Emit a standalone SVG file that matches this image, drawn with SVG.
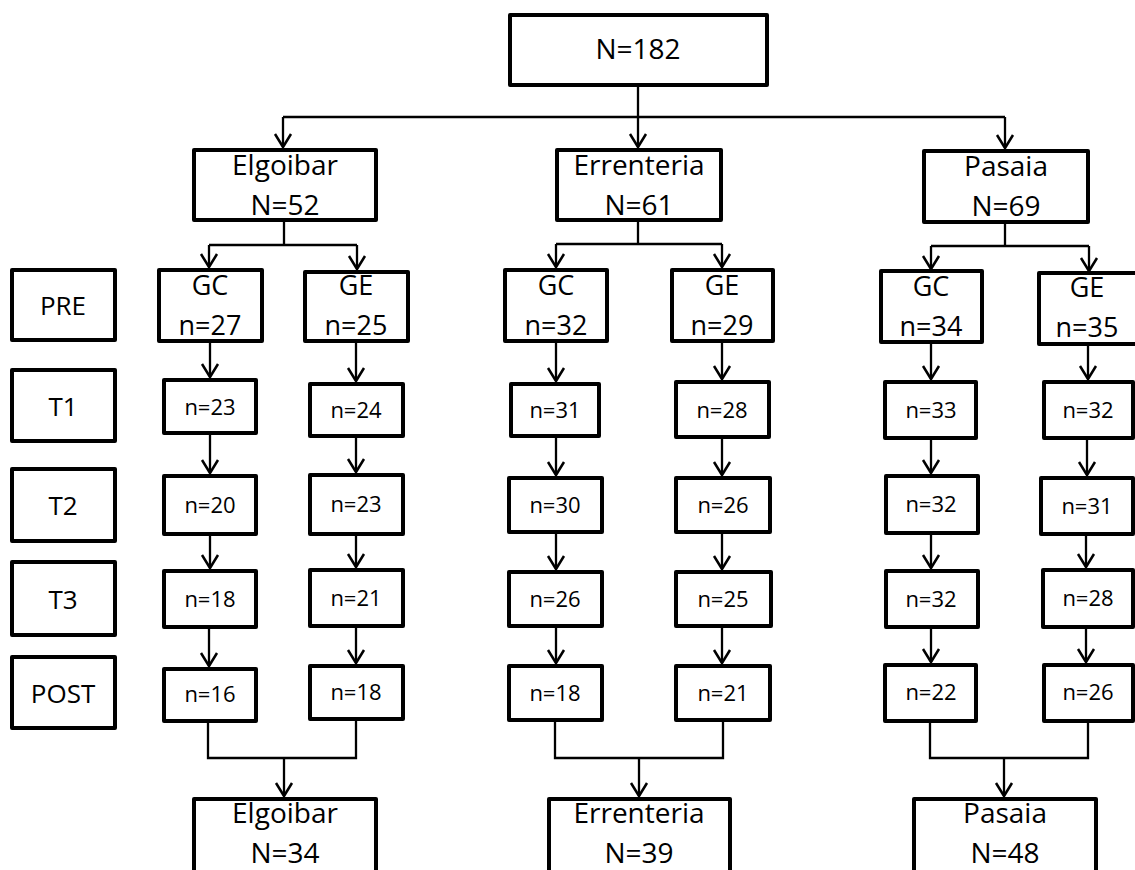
<svg xmlns="http://www.w3.org/2000/svg" width="1135" height="870" viewBox="0 0 1135 870">
<style>
.b{fill:#fff;stroke:#000;stroke-width:4;stroke-linejoin:round}
.t{font-family:'Open Sans','Noto Sans','Liberation Sans',sans-serif;fill:#000;text-anchor:middle}
.L{font-size:28px}
.M{font-size:27px}
.S{font-size:22px}
.R{font-size:26px}
.c{fill:none;stroke:#000;stroke-width:2.3}
.a{marker-end:url(#ah)}
</style>
<defs>
<marker id="ah" markerUnits="userSpaceOnUse" markerWidth="20" markerHeight="20" viewBox="-15 -10 17 20" refX="0" refY="0" orient="auto" overflow="visible">
<path d="M-13,-8 L0,0 L-13,8" fill="none" stroke="#000" stroke-width="2.5" stroke-linejoin="miter"/>
</marker>
</defs>
<g id="connectors">
<path class="c" d="M638,87 V117 M283,117 H1005"/>
<path class="c a" d="M283,117 V147"/>
<path class="c a" d="M638,117 V147"/>
<path class="c a" d="M1005,117 V148"/>
<path class="c" d="M284,222 V245 M209,245 H357"/>
<path class="c a" d="M209,245 V267"/>
<path class="c a" d="M357,245 V269"/>
<path class="c" d="M638,222 V244 M556,244 H722"/>
<path class="c a" d="M556,244 V267"/>
<path class="c a" d="M722,244 V267"/>
<path class="c" d="M1005,224 V246 M931,246 H1089"/>
<path class="c a" d="M931,246 V269"/>
<path class="c a" d="M1089,246 V271"/>
<path class="c a" d="M210,343 V377"/>
<path class="c a" d="M210,435 V473"/>
<path class="c a" d="M210,536 V568"/>
<path class="c a" d="M209,629 V666"/>
<path class="c a" d="M356,343 V381"/>
<path class="c a" d="M356,438 V472"/>
<path class="c a" d="M356,536 V567"/>
<path class="c a" d="M356,628 V663"/>
<path class="c a" d="M556,343 V381"/>
<path class="c a" d="M556,438 V475"/>
<path class="c a" d="M556,534 V569"/>
<path class="c a" d="M556,628 V663"/>
<path class="c a" d="M722,343 V379"/>
<path class="c a" d="M722,439 V475"/>
<path class="c a" d="M722,534 V569"/>
<path class="c a" d="M722,628 V663"/>
<path class="c a" d="M931,344 V379"/>
<path class="c a" d="M931,440 V473"/>
<path class="c a" d="M931,535 V568"/>
<path class="c a" d="M931,629 V662"/>
<path class="c a" d="M1088,346 V379"/>
<path class="c a" d="M1087,440 V475"/>
<path class="c a" d="M1086,536 V567"/>
<path class="c a" d="M1086,629 V662"/>
<path class="c" d="M208,723 V758 H356 V721"/>
<path class="c a" d="M284,758 V796"/>
<path class="c" d="M555,722 V758 H723 V722"/>
<path class="c a" d="M639,758 V796"/>
<path class="c" d="M930,723 V758 H1088 V723"/>
<path class="c a" d="M1004,758 V796"/>
</g>
<g id="n-total"><rect class="b" x="510" y="15" width="257" height="70"/><text class="t L" x="638" y="59">N=182</text></g>
<g id="n-elgoibar"><rect class="b" x="194" y="150" width="182" height="70"/><text class="t L" x="285" y="175">Elgoibar</text><text class="t L" x="285" y="215">N=52</text></g>
<g id="n-errenteria"><rect class="b" x="557" y="150" width="164" height="70"/><text class="t L" x="639" y="175">Errenteria</text><text class="t L" x="639" y="215">N=61</text></g>
<g id="n-pasaia"><rect class="b" x="924" y="151" width="164" height="71"/><text class="t L" x="1006" y="176">Pasaia</text><text class="t L" x="1006" y="216">N=69</text></g>
<g id="l-pre"><rect class="b" x="12" y="270" width="103" height="70"/><text class="t R" x="63" y="315">PRE</text></g>
<g id="l-t1"><rect class="b" x="12" y="370" width="103" height="71"/><text class="t R" x="63" y="416">T1</text></g>
<g id="l-t2"><rect class="b" x="12" y="469" width="103" height="72"/><text class="t R" x="63" y="515">T2</text></g>
<g id="l-t3"><rect class="b" x="12" y="562" width="103" height="73"/><text class="t R" x="63" y="609">T3</text></g>
<g id="l-post"><rect class="b" x="12" y="657" width="103" height="71"/><text class="t R" x="63" y="703">POST</text></g>
<g id="e-gc-pre"><rect class="b" x="159" y="270" width="103" height="71"/><text class="t M" x="210" y="295">GC</text><text class="t M" x="210" y="335">n=27</text></g>
<g id="e-ge-pre"><rect class="b" x="305" y="272" width="103" height="69"/><text class="t M" x="356" y="295">GE</text><text class="t M" x="356" y="335">n=25</text></g>
<g id="e-gc-t1"><rect class="b" x="164" y="380" width="92" height="53"/><text class="t S" x="210" y="415">n=23</text></g>
<g id="e-ge-t1"><rect class="b" x="310" y="384" width="93" height="52"/><text class="t S" x="356" y="418">n=24</text></g>
<g id="e-gc-t2"><rect class="b" x="164" y="476" width="92" height="58"/><text class="t S" x="210" y="513">n=20</text></g>
<g id="e-ge-t2"><rect class="b" x="310" y="475" width="93" height="59"/><text class="t S" x="356" y="512">n=23</text></g>
<g id="e-gc-t3"><rect class="b" x="164" y="571" width="92" height="56"/><text class="t S" x="210" y="607">n=18</text></g>
<g id="e-ge-t3"><rect class="b" x="310" y="570" width="93" height="56"/><text class="t S" x="356" y="606">n=21</text></g>
<g id="e-gc-post"><rect class="b" x="164" y="669" width="92" height="52"/><text class="t S" x="210" y="702">n=16</text></g>
<g id="e-ge-post"><rect class="b" x="310" y="666" width="93" height="53"/><text class="t S" x="356" y="700">n=18</text></g>
<g id="r-gc-pre"><rect class="b" x="505" y="270" width="102" height="71"/><text class="t M" x="556" y="295">GC</text><text class="t M" x="556" y="335">n=32</text></g>
<g id="r-ge-pre"><rect class="b" x="672" y="270" width="101" height="71"/><text class="t M" x="722" y="295">GE</text><text class="t M" x="722" y="335">n=29</text></g>
<g id="r-gc-t1"><rect class="b" x="511" y="384" width="88" height="52"/><text class="t S" x="555" y="418">n=31</text></g>
<g id="r-ge-t1"><rect class="b" x="676" y="382" width="93" height="55"/><text class="t S" x="722" y="418">n=28</text></g>
<g id="r-gc-t2"><rect class="b" x="509" y="478" width="93" height="54"/><text class="t S" x="555" y="513">n=30</text></g>
<g id="r-ge-t2"><rect class="b" x="676" y="478" width="94" height="54"/><text class="t S" x="723" y="513">n=26</text></g>
<g id="r-gc-t3"><rect class="b" x="509" y="572" width="93" height="54"/><text class="t S" x="555" y="607">n=26</text></g>
<g id="r-ge-t3"><rect class="b" x="676" y="572" width="95" height="54"/><text class="t S" x="723" y="607">n=25</text></g>
<g id="r-gc-post"><rect class="b" x="509" y="666" width="93" height="54"/><text class="t S" x="555" y="701">n=18</text></g>
<g id="r-ge-post"><rect class="b" x="676" y="666" width="94" height="54"/><text class="t S" x="723" y="701">n=21</text></g>
<g id="p-gc-pre"><rect class="b" x="881" y="271" width="101" height="71"/><text class="t M" x="931" y="296">GC</text><text class="t M" x="931" y="336">n=34</text></g>
<g id="p-ge-pre"><rect class="b" x="1039" y="273" width="104" height="71"/><text class="t M" x="1087" y="297">GE</text><text class="t M" x="1087" y="337">n=35</text></g>
<g id="p-gc-t1"><rect class="b" x="885" y="382" width="91" height="56"/><text class="t S" x="931" y="418">n=33</text></g>
<g id="p-ge-t1"><rect class="b" x="1044" y="382" width="89" height="56"/><text class="t S" x="1088" y="418">n=32</text></g>
<g id="p-gc-t2"><rect class="b" x="886" y="476" width="92" height="57"/><text class="t S" x="931" y="512">n=32</text></g>
<g id="p-ge-t2"><rect class="b" x="1041" y="478" width="92" height="56"/><text class="t S" x="1087" y="514">n=31</text></g>
<g id="p-gc-t3"><rect class="b" x="886" y="571" width="92" height="56"/><text class="t S" x="931" y="607">n=32</text></g>
<g id="p-ge-t3"><rect class="b" x="1043" y="570" width="90" height="57"/><text class="t S" x="1088" y="606">n=28</text></g>
<g id="p-gc-post"><rect class="b" x="885" y="665" width="91" height="56"/><text class="t S" x="931" y="700">n=22</text></g>
<g id="p-ge-post"><rect class="b" x="1044" y="665" width="89" height="56"/><text class="t S" x="1088" y="700">n=26</text></g>
<g id="f-elgoibar"><rect class="b" x="194" y="799" width="182" height="90"/><text class="t L" x="285" y="823">Elgoibar</text><text class="t L" x="285" y="863">N=34</text></g>
<g id="f-errenteria"><rect class="b" x="549" y="799" width="181" height="90"/><text class="t L" x="639" y="823">Errenteria</text><text class="t L" x="639" y="863">N=39</text></g>
<g id="f-pasaia"><rect class="b" x="914" y="799" width="182" height="90"/><text class="t L" x="1005" y="823">Pasaia</text><text class="t L" x="1005" y="863">N=48</text></g>
</svg>
